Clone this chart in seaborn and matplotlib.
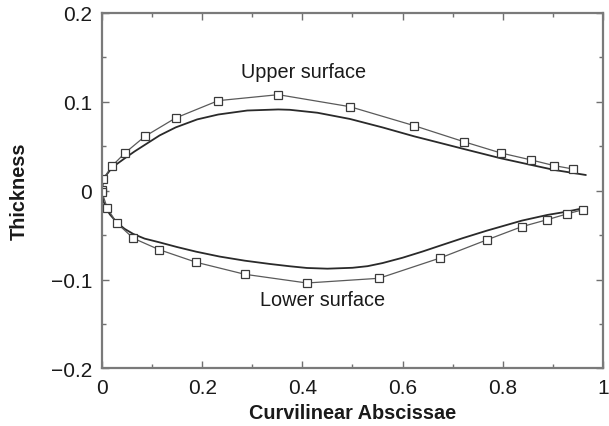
import matplotlib
matplotlib.use("Agg")
import matplotlib.pyplot as plt
import seaborn as sns
from matplotlib.ticker import MultipleLocator, FixedLocator, FixedFormatter

# Measured profile (markers): upper and lower surfaces
upper_x = [0.0, 0.0026, 0.0194, 0.0459, 0.0858, 0.147, 0.232, 0.352, 0.495,
           0.623, 0.722, 0.796, 0.857, 0.903, 0.940]
upper_y = [0.001, 0.0130, 0.0273, 0.0423, 0.0610, 0.0816, 0.1011, 0.1078, 0.0943,
           0.0730, 0.0550, 0.0423, 0.0344, 0.0280, 0.0243]
lower_x = [0.0, 0.0, 0.0106, 0.0293, 0.0625, 0.114, 0.188, 0.285, 0.409,
           0.553, 0.675, 0.768, 0.838, 0.889, 0.928, 0.960]
lower_y = [-0.002, -0.002, -0.0199, -0.0364, -0.0536, -0.0664, -0.0806, -0.0941, -0.1039,
           -0.0986, -0.0758, -0.0555, -0.0406, -0.0327, -0.0263, -0.0215]

# Reference profile (smooth curves)
ref_upper_x = [0.0, 0.002, 0.008, 0.019, 0.030, 0.046, 0.065, 0.0858, 0.115, 0.147, 0.19,
               0.232, 0.29, 0.352, 0.375, 0.43, 0.495, 0.56, 0.623, 0.672, 0.722,
               0.796, 0.857, 0.903, 0.966]
ref_upper_y = [0.0, 0.010, 0.017, 0.025, 0.030, 0.0365, 0.044, 0.0515, 0.062, 0.071, 0.080,
               0.0855, 0.0900, 0.0912, 0.0908, 0.0875, 0.0805, 0.0710, 0.0610, 0.0540, 0.0468,
               0.0363, 0.0288, 0.0232, 0.0175]
ref_lower_x = [0.0, 0.003, 0.008, 0.016, 0.030, 0.045, 0.0625, 0.085, 0.114, 0.15, 0.188,
               0.235, 0.285, 0.335, 0.375, 0.409, 0.45, 0.50, 0.53, 0.56, 0.60, 0.64,
               0.675, 0.72, 0.768, 0.838, 0.889, 0.928, 0.960]
ref_lower_y = [0.0, -0.012, -0.020, -0.027, -0.036, -0.043, -0.0488, -0.054, -0.0581, -0.0635,
               -0.0687, -0.0742, -0.0788, -0.0825, -0.0851, -0.0870, -0.0878, -0.0868, -0.0850,
               -0.0815, -0.0755, -0.0685, -0.0619, -0.0535, -0.0451, -0.0338, -0.0274, -0.0237,
               -0.0199]

x_ticks = [0, 0.2, 0.4, 0.6, 0.8, 1.0]
x_tick_labels = ["0", "0.2", "0.4", "0.6", "0.8", "1"]
y_ticks = [-0.2, -0.1, 0, 0.1, 0.2]
y_tick_labels = ["\u22120.2", "\u22120.1", "0", "0.1", "0.2"]

sns.set_theme(style="white")
plt.rcParams["font.family"] = ["Liberation Sans", "DejaVu Sans"]

fig = plt.figure(figsize=(6.09, 4.27), dpi=100)
ax = fig.add_axes([0.1675, 0.1347, 0.8225, 0.8333])

curve_color = "#2a2a2a"
marker_color = "#5a5a5a"

sns.lineplot(x=ref_upper_x, y=ref_upper_y, sort=False, ax=ax, color=curve_color,
             linewidth=1.3)
sns.lineplot(x=ref_lower_x, y=ref_lower_y, sort=False, ax=ax, color=curve_color,
             linewidth=1.3)
sns.lineplot(x=upper_x, y=upper_y, sort=False, ax=ax, color=marker_color, linewidth=0.9,
             marker="s", markersize=5.5, markerfacecolor="white",
             markeredgecolor="#3a3a3a", markeredgewidth=0.9)
sns.lineplot(x=lower_x, y=lower_y, sort=False, ax=ax, color=marker_color, linewidth=0.9,
             marker="s", markersize=5.5, markerfacecolor="white",
             markeredgecolor="#3a3a3a", markeredgewidth=0.9)

ax.set_xlim(0, 1)
ax.set_ylim(-0.2, 0.2)
ax.xaxis.set_major_locator(FixedLocator(x_ticks))
ax.xaxis.set_major_formatter(FixedFormatter(x_tick_labels))
ax.yaxis.set_major_locator(FixedLocator(y_ticks))
ax.yaxis.set_major_formatter(FixedFormatter(y_tick_labels))
ax.xaxis.set_minor_locator(MultipleLocator(0.1))
ax.yaxis.set_minor_locator(MultipleLocator(0.05))
ax.tick_params(which="both", direction="in", top=True, right=True, bottom=True, left=True,
               color="#707070", width=1.0, labelsize=15, labelcolor="#1a1a1a", pad=7)
ax.tick_params(which="major", length=5)
ax.tick_params(which="minor", length=3)

for s in ax.spines.values():
    s.set_color("#7a7a7a")
    s.set_linewidth(1.6)

ax.set_xlabel("Curvilinear Abscissae", fontsize=14.3, fontweight="bold", color="#1a1a1a",
              labelpad=4)
ax.set_ylabel("Thickness", fontsize=14.3, fontweight="bold", color="#1a1a1a", labelpad=16)

ax.text(0.277, 0.134, "Upper surface", fontsize=14.3, color="#1a1a1a", va="center", ha="left")
ax.text(0.315, -0.122, "Lower surface", fontsize=14.3, color="#1a1a1a", va="center", ha="left")

fig.savefig("out.png", dpi=100)
